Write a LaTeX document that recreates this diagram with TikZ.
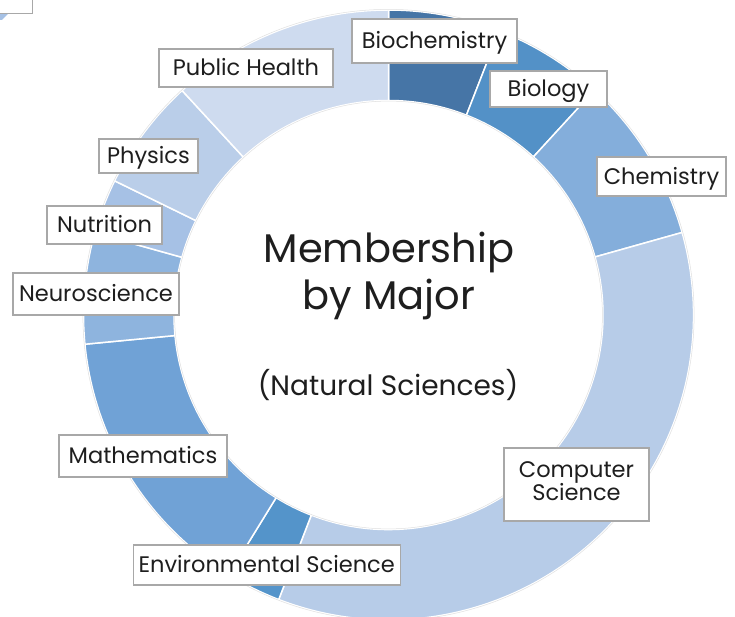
\documentclass[tikz,border=0pt]{standalone}
\usepackage{fontspec}
\setmainfont{Poppins}
\usetikzlibrary{calc}
\definecolor{cBiochem}{HTML}{4675A6}
\definecolor{cBiology}{HTML}{5391C7}
\definecolor{cChem}{HTML}{84AEDB}
\definecolor{cCompSci}{HTML}{B7CCE8}
\definecolor{cEnv}{HTML}{5494CA}
\definecolor{cMath}{HTML}{70A2D6}
\definecolor{cNeuro}{HTML}{8EB4DE}
\definecolor{cNutr}{HTML}{A6C1E5}
\definecolor{cPhys}{HTML}{BACEE9}
\definecolor{cPubH}{HTML}{CEDBEF}
\definecolor{cBorder}{HTML}{A8A8A8}
\definecolor{cText}{HTML}{1E1E1E}
\newcommand\donutseg[3]{%
  \fill[#3,draw=white,line width=1.5pt,line join=round]
    ([shift={(388.5,301)}]90-#1:305) arc[start angle=90-#1,end angle=90-#2,radius=305]
    -- ([shift={(388.5,301)}]90-#2:214.5) arc[start angle=90-#2,end angle=90-#1,radius=214.5]
    -- cycle;}
\tikzset{
  lbl/.style={draw=cBorder,line width=1.1pt,fill=white,text=cText,inner sep=0pt,
    font=\fontsize{22.5}{22}\selectfont,text height=15.5pt,text depth=0pt,align=center},
  ctitle/.style={text=cText,inner sep=0pt,anchor=base,font=\fontsize{40}{40}\selectfont},
  csub/.style={text=cText,inner sep=0pt,anchor=base,font=\fontsize{28}{28}\selectfont}
}
\begin{document}
\begin{tikzpicture}[x=1pt,y=1pt]
\useasboundingbox (0,0) rectangle (735,616);
\fill[white] (0,0) rectangle (735,616);
% stray fragment of a neighbouring chart, top-left corner
\fill[cNutr] (0,602) -- (8,602) -- (2,596) -- (0,596) -- cycle;
\draw[cBorder,line width=1.1pt,fill=white] (-5,602.7) rectangle (32.7,620);
% donut ring
\coordinate (c) at (388.5,301);
\donutseg{0}{21.3}{cBiochem}
\donutseg{21.3}{42.5}{cBiology}
\donutseg{42.5}{74.3}{cChem}
\donutseg{74.3}{201.1}{cCompSci}
\donutseg{201.1}{211.6}{cEnv}
\donutseg{211.6}{264.5}{cMath}
\donutseg{264.5}{285.6}{cNeuro}
\donutseg{285.6}{296.1}{cNutr}
\donutseg{296.1}{317.4}{cPhys}
\donutseg{317.4}{360}{cPubH}
\draw[black!12,line width=0.5pt] (c) circle[radius=305.6];
\draw[black!12,line width=0.5pt] (c) circle[radius=213.9];
% labels
\node[lbl,minimum width=165,minimum height=44] (biochem) at (434.5,575) {Biochemistry};
\node[lbl,minimum width=117,minimum height=36] (biology) at (548.5,527) {Biology};
\node[lbl,minimum width=129,minimum height=39] (chem) at (661.5,439.5) {Chemistry};
\node[lbl,minimum width=145,minimum height=73,text height=31pt] (compsci) at (576.5,131.5) {Computer\\[-1.5pt]Science};
\node[lbl,minimum width=267,minimum height=40] (env) at (266.7,51) {Environmental Science};
\node[lbl,minimum width=168,minimum height=42] (math) at (143,160) {Mathematics};
\node[lbl,minimum width=166,minimum height=42] (neuro) at (96,322) {Neuroscience};
\node[lbl,minimum width=115,minimum height=38] (nutr) at (104.5,391) {Nutrition};
\node[lbl,minimum width=99,minimum height=34] (phys) at (148.5,460) {Physics};
\node[lbl,minimum width=174,minimum height=38] (pubh) at (246,548) {Public Health};
% centre title
\node[ctitle] (t1) at (389,353) {Membership};
\node[ctitle] (t2) at (389,306) {by Major};
\node[csub] (t3) at (388,221) {(Natural Sciences)};
\end{tikzpicture}
\end{document}
